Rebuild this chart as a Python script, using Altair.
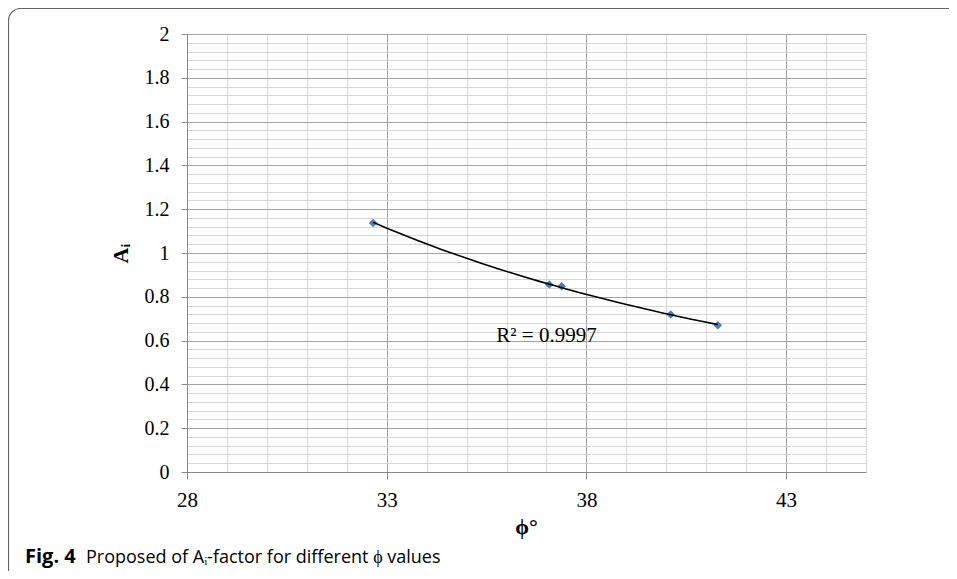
import altair as alt
import pandas as pd

# Data
phi_values = [32.66, 37.07, 37.38, 40.11, 41.29]
a_values = [1.137, 0.856, 0.848, 0.719, 0.670]

# Axis tick / grid values
x_ticks = list(range(28, 46))
y_ticks = [round(i * 0.04, 2) for i in range(51)]

r2_text = "R² = 0.9997"
r2_pos_phi = [37.0]
r2_pos_a = [0.592]

caption_bold = "Fig. 4"
caption_text = "Proposed of Aᵢ-factor for different ϕ values"

df = pd.DataFrame({"phi": phi_values, "A": a_values})
one = pd.DataFrame({"k": [0]})
r2_df = pd.DataFrame({"phi": r2_pos_phi, "A": r2_pos_a})

MAJOR_GRID = "#a3a3a3"
MINOR_GRID = "#d6d6d6"

x_scale = alt.Scale(domain=[28, 45], nice=False, zero=False)
y_scale = alt.Scale(domain=[0, 2], nice=False)

x_major_test = "(datum.value - 28) % 5 == 0"
x_axis = alt.Axis(
    values=x_ticks, tickCount=200,
    labelExpr=f"{x_major_test} ? format(datum.value, 'd') : ''",
    labelOverlap=False, labelFlush=False,
    labelFont="Liberation Serif", labelFontSize=21, labelColor="black",
    labelPadding=10,
    tickSize=7, tickColor="#888888",
    tickOpacity={"condition": {"test": x_major_test, "value": 1}, "value": 0},
    grid=True,
    gridColor={"condition": {"test": x_major_test, "value": MAJOR_GRID}, "value": MINOR_GRID},
    gridWidth=1,
    domainColor="#888888",
    title="ϕ°", titleFont="Liberation Serif", titleFontSize=22, titleFontWeight="bold",
    titleColor="black", titleX=339, titleY=61, titleBaseline="alphabetic", titleAlign="center",
)

y_major_test = "abs(datum.value*5 - round(datum.value*5)) < 1e-6"
y_axis = alt.Axis(
    values=y_ticks, tickCount=200,
    labelExpr=f"{y_major_test} ? format(datum.value, '~g') : ''",
    labelOverlap=False, labelFlush=False,
    labelFont="Liberation Serif", labelFontSize=20, labelColor="black",
    labelPadding=12,
    tickSize=6, tickColor="#888888",
    tickOpacity={"condition": {"test": y_major_test, "value": 1}, "value": 0},
    grid=True,
    gridColor={"condition": {"test": y_major_test, "value": MAJOR_GRID}, "value": MINOR_GRID},
    gridWidth=1,
    domainColor="#888888",
    title="Aᵢ", titleFont="Liberation Serif", titleFontSize=22, titleFontWeight="bold",
    titleColor="black", titleX=-60, titleY=219, titleBaseline="alphabetic", titleAlign="center",
    titleAngle=270,
)

frame = alt.Chart(one).mark_rect(
    fillOpacity=0, stroke="#666666", strokeWidth=1.2, cornerRadius=12
).encode(
    x=alt.value(-178.5), x2=alt.value(1000), y=alt.value(-25.5), y2=alt.value(800)
)

points_base = alt.Chart(df).encode(
    x=alt.X("phi:Q", scale=x_scale, axis=x_axis),
    y=alt.Y("A:Q", scale=y_scale, axis=y_axis),
)

trend = alt.Chart(df).transform_regression(
    "phi", "A", method="pow"
).mark_line(color="black", strokeWidth=1.6).encode(
    x=alt.X("phi:Q", scale=x_scale),
    y=alt.Y("A:Q", scale=y_scale),
)

points = points_base.mark_point(
    shape="diamond", filled=True, size=75, color="#4a7ebb", opacity=1
)

r2 = alt.Chart(r2_df).mark_text(
    text=r2_text, font="Liberation Serif", fontSize=21, color="black",
    align="center", baseline="alphabetic"
).encode(
    x=alt.X("phi:Q", scale=x_scale),
    y=alt.Y("A:Q", scale=y_scale),
)

cap1 = alt.Chart(one).mark_text(
    text=caption_bold, font="Open Sans", fontSize=20, fontWeight="bold", color="black",
    align="left", baseline="alphabetic"
).encode(x=alt.value(-162), y=alt.value(529))

cap2 = alt.Chart(one).mark_text(
    text=caption_text, font="Open Sans", fontSize=18, color="black",
    align="left", baseline="alphabetic"
).encode(x=alt.value(-101), y=alt.value(529))

chart = alt.layer(frame, points, trend, r2, cap1, cap2).properties(
    width=679, height=438,
    padding={"left": 179, "top": 26, "right": 83, "bottom": 99},
    autosize=alt.AutoSizeParams(type="none"),
).configure_view(stroke=None).configure(background="white")

chart.save("out.html", embed_options={"renderer": "svg", "actions": False})
